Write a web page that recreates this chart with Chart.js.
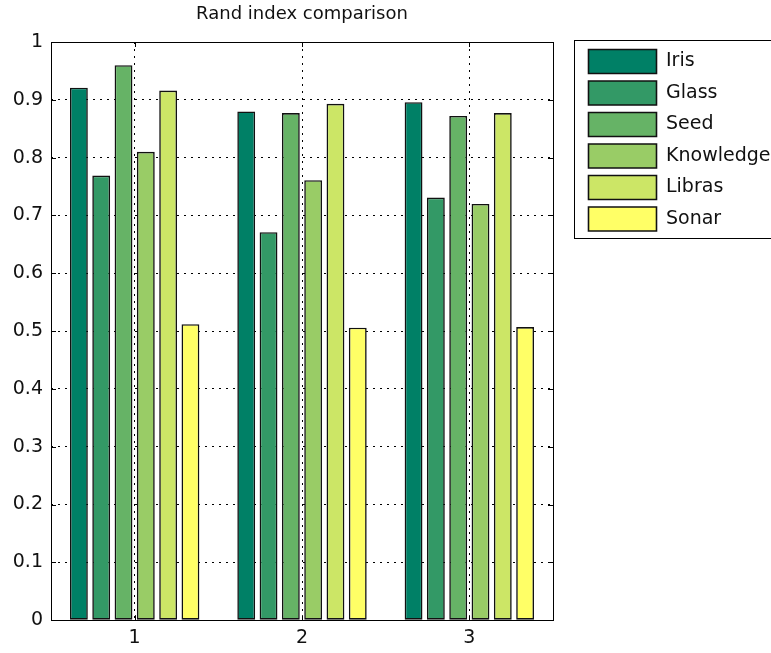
<!DOCTYPE html>
<html>
<head>
<meta charset="utf-8">
<script src="https://cdn.jsdelivr.net/npm/chart.js@4"></script>
<style>
  html, body { margin: 0; padding: 0; background: #fff; }
  #wrap { width: 771px; height: 653px; }
</style>
</head>
<body>
<div id="wrap"><canvas id="myChart"></canvas></div>
<script>
// data
const groups = ['1', '2', '3'];
const datasetNames = ['Iris', 'Glass', 'Seed', 'Knowledge', 'Libras', 'Sonar'];
const iris = [0.921, 0.880, 0.896];
const glass = [0.769, 0.671, 0.731];
const seed = [0.960, 0.877, 0.872];
const knowledge = [0.810, 0.761, 0.720];
const libras = [0.916, 0.893, 0.877];
const sonar = [0.512, 0.506, 0.507];
const yTickLabels = ['0', '0.1', '0.2', '0.3', '0.4', '0.5', '0.6', '0.7', '0.8', '0.9', '1'];

// summer colormap
const colors = ['rgb(0,128,102)', 'rgb(51,153,102)', 'rgb(102,179,102)',
                'rgb(153,204,102)', 'rgb(204,230,102)', 'rgb(255,255,102)'];
const series = [iris, glass, seed, knowledge, libras, sonar];

const FONT = 'DejaVu Sans';

// box around axes, inward tick marks, legend frame
const frame = {
  id: 'frame',
  afterDatasetsDraw(chart) {
    const {ctx, chartArea: a} = chart;
    const x = chart.scales.x, y = chart.scales.y;
    ctx.save();
    ctx.strokeStyle = '#000';
    ctx.lineWidth = 1;
    ctx.beginPath();
    y.ticks.forEach((t, i) => {
      const py = Math.round(y.getPixelForTick(i)) + 0.5;
      ctx.moveTo(a.left, py); ctx.lineTo(a.left + 5, py);
      ctx.moveTo(a.right, py); ctx.lineTo(a.right - 5, py);
    });
    x.ticks.forEach((t, i) => {
      const px = Math.round(x.getPixelForTick(i)) + 0.5;
      ctx.moveTo(px, a.bottom); ctx.lineTo(px, a.bottom - 5);
      ctx.moveTo(px, a.top); ctx.lineTo(px, a.top + 5);
    });
    ctx.stroke();
    ctx.strokeRect(Math.round(a.left) + 0.5, Math.round(a.top) + 0.5,
                   Math.round(a.right - a.left), Math.round(a.bottom - a.top));
    const lg = chart.legend;
    if (lg) {
      ctx.strokeRect(Math.round(lg.left) - 6.5, Math.round(lg.top) - 1.5, 400, 198);
    }
    ctx.restore();
  }
};

const ctx = document.getElementById('myChart').getContext('2d');
const myChart = new Chart(ctx, {
  type: 'bar',
  data: {
    labels: groups,
    datasets: series.map((d, i) => ({
      label: datasetNames[i],
      data: d,
      backgroundColor: colors[i],
      borderColor: '#111',
      borderWidth: 1.6,
      borderSkipped: false,
      categoryPercentage: 0.8,
      barPercentage: 0.8
    }))
  },
  options: {
    responsive: true,
    maintainAspectRatio: false,
    animation: false,
    layout: { padding: { left: 0, right: 0, top: 0, bottom: -2 } },
    plugins: {
      title: {
        display: true,
        text: 'Rand index comparison',
        fullSize: false,
        color: '#111',
        font: { family: FONT, size: 18, weight: 'normal' },
        padding: { top: 4, bottom: 16.4 }
      },
      legend: {
        display: true,
        position: 'right',
        align: 'start',
        fullSize: false,
        maxWidth: 190,
        labels: {
          boxWidth: 68,
          boxHeight: 24,
          padding: 7.5,
          color: '#111',
          font: { family: FONT, size: 19 }
        }
      },
      tooltip: { enabled: false }
    },
    scales: {
      x: {
        grid: { offset: false, color: '#000', lineWidth: 1, drawTicks: false },
        border: { display: false, dash: [2, 5] },
        ticks: { color: '#111', padding: 6, font: { family: FONT, size: 19 } }
      },
      y: {
        min: 0,
        max: 1,
        afterFit(scale) { scale.width = 51; },
        grid: { color: '#000', lineWidth: 1, drawTicks: false },
        border: { display: false, dash: [2, 5] },
        ticks: {
          stepSize: 0.1,
          color: '#111',
          padding: 8,
          font: { family: FONT, size: 19 },
          callback: (v, i) => yTickLabels[i]
        }
      },
      y2: {
        position: 'right',
        min: 0,
        max: 1,
        afterFit(scale) { scale.width = 28; },
        grid: { display: false, drawTicks: false },
        border: { display: false },
        ticks: { display: false }
      }
    }
  },
  plugins: [frame]
});
</script>
</body>
</html>
